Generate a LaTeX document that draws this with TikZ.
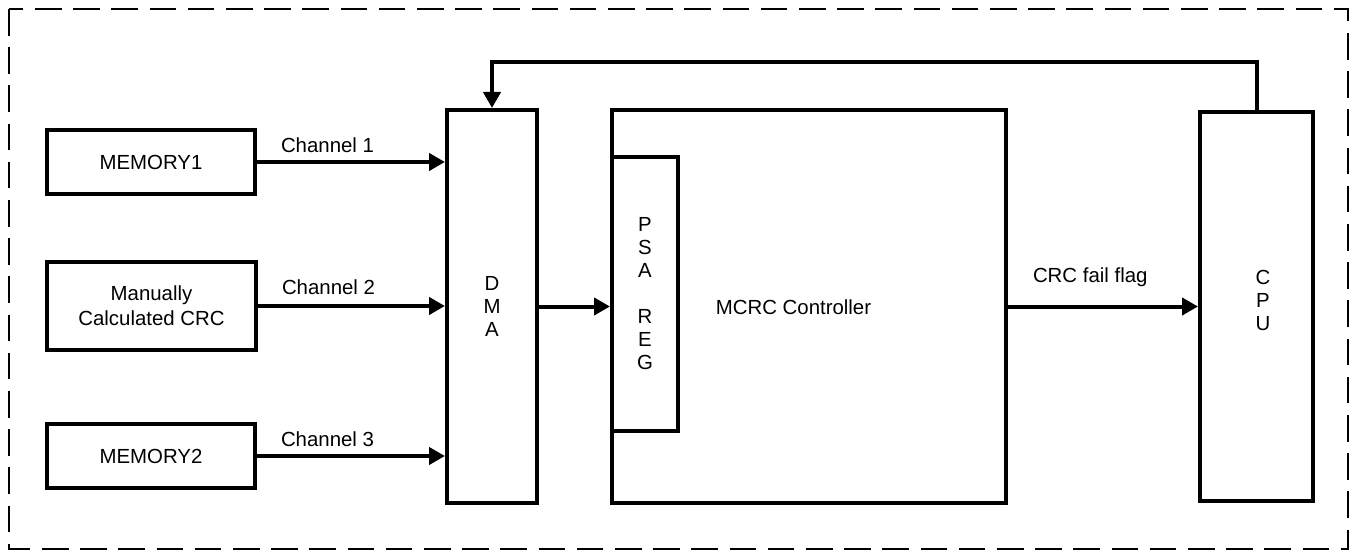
\documentclass[tikz,border=0pt]{standalone}
\usepackage{fontspec}
\setmainfont{Liberation Sans}
\usetikzlibrary{arrows.meta}

\begin{document}
\begin{tikzpicture}[
  x=0.5pt, y=-0.5pt,
  blk/.style={draw, line width=2pt, inner sep=0pt, align=center,
    font=\fontsize{10.2}{12.5}\selectfont},
  col/.style={blk, font=\fontsize{10.2}{11.5}\selectfont},
  link/.style={line width=2pt, -{Triangle[length=8pt, width=8.5pt]}},
  lbl/.style={anchor=base west, inner sep=0pt, font=\fontsize{10.2}{12}\selectfont}
]
  \useasboundingbox (0,0) rectangle (1353,551);

  % outer frame
  \draw[line width=1pt, dash pattern=on 13.3pt off 5.8pt] (9,9) rectangle (1348,549);

  % sources
  \node[blk, minimum width=104pt, minimum height=32pt] (mem1) at (151,162) {MEMORY1};
  \node[blk, minimum width=104.5pt, minimum height=44pt] (manual) at (151.5,306) {Manually\\Calculated CRC};
  \node[blk, minimum width=104pt, minimum height=32pt] (mem2) at (151,456) {MEMORY2};

  % DMA, MCRC and CPU
  \node[col, minimum width=45pt, minimum height=196.5pt] (dma) at (492,306.5) {D\\M\\A};
  \node[blk, minimum width=197pt, minimum height=196.5pt] (mcrc) at (809,306.5) {};
  \node[col, minimum width=33pt, minimum height=137pt] (psa) at (645,294) {P\\S\\A\\[11.5pt]R\\E\\G};
  \node[lbl, anchor=center] (mcrclbl) at (793.5,307) {MCRC Controller};
  \node[col, minimum width=56.5pt, minimum height=194.5pt] (cpu) at (1256.5,306.5) {};
  \node[col, draw=none] (cpulbl) at (1263,300) {C\\P\\U};

  % channels into the DMA
  \draw[link] (mem1.east) -- (mem1 -| dma.west)
    node[lbl, pos=0, xshift=11pt, yshift=5pt] (ch1) {Channel 1};
  \draw[link] (manual.east) -- (manual -| dma.west)
    node[lbl, pos=0, xshift=11pt, yshift=6pt] (ch2) {Channel 2};
  \draw[link] (mem2.east) -- (mem2 -| dma.west)
    node[lbl, pos=0, xshift=11pt, yshift=5pt] (ch3) {Channel 3};

  % DMA to PSA register, flag to CPU
  \draw[link] (dma.east) -- (dma -| mcrc.west);
  \draw[link] (mcrc.east) -- (cpu.west)
    node[lbl, pos=0, xshift=11.5pt, yshift=12pt] (flag) {CRC fail flag};

  % CPU back to DMA
  \coordinate (fb) at (492,62);
  \draw[link] (cpu.north) |- (fb) -- (dma.north);
\end{tikzpicture}
\end{document}
